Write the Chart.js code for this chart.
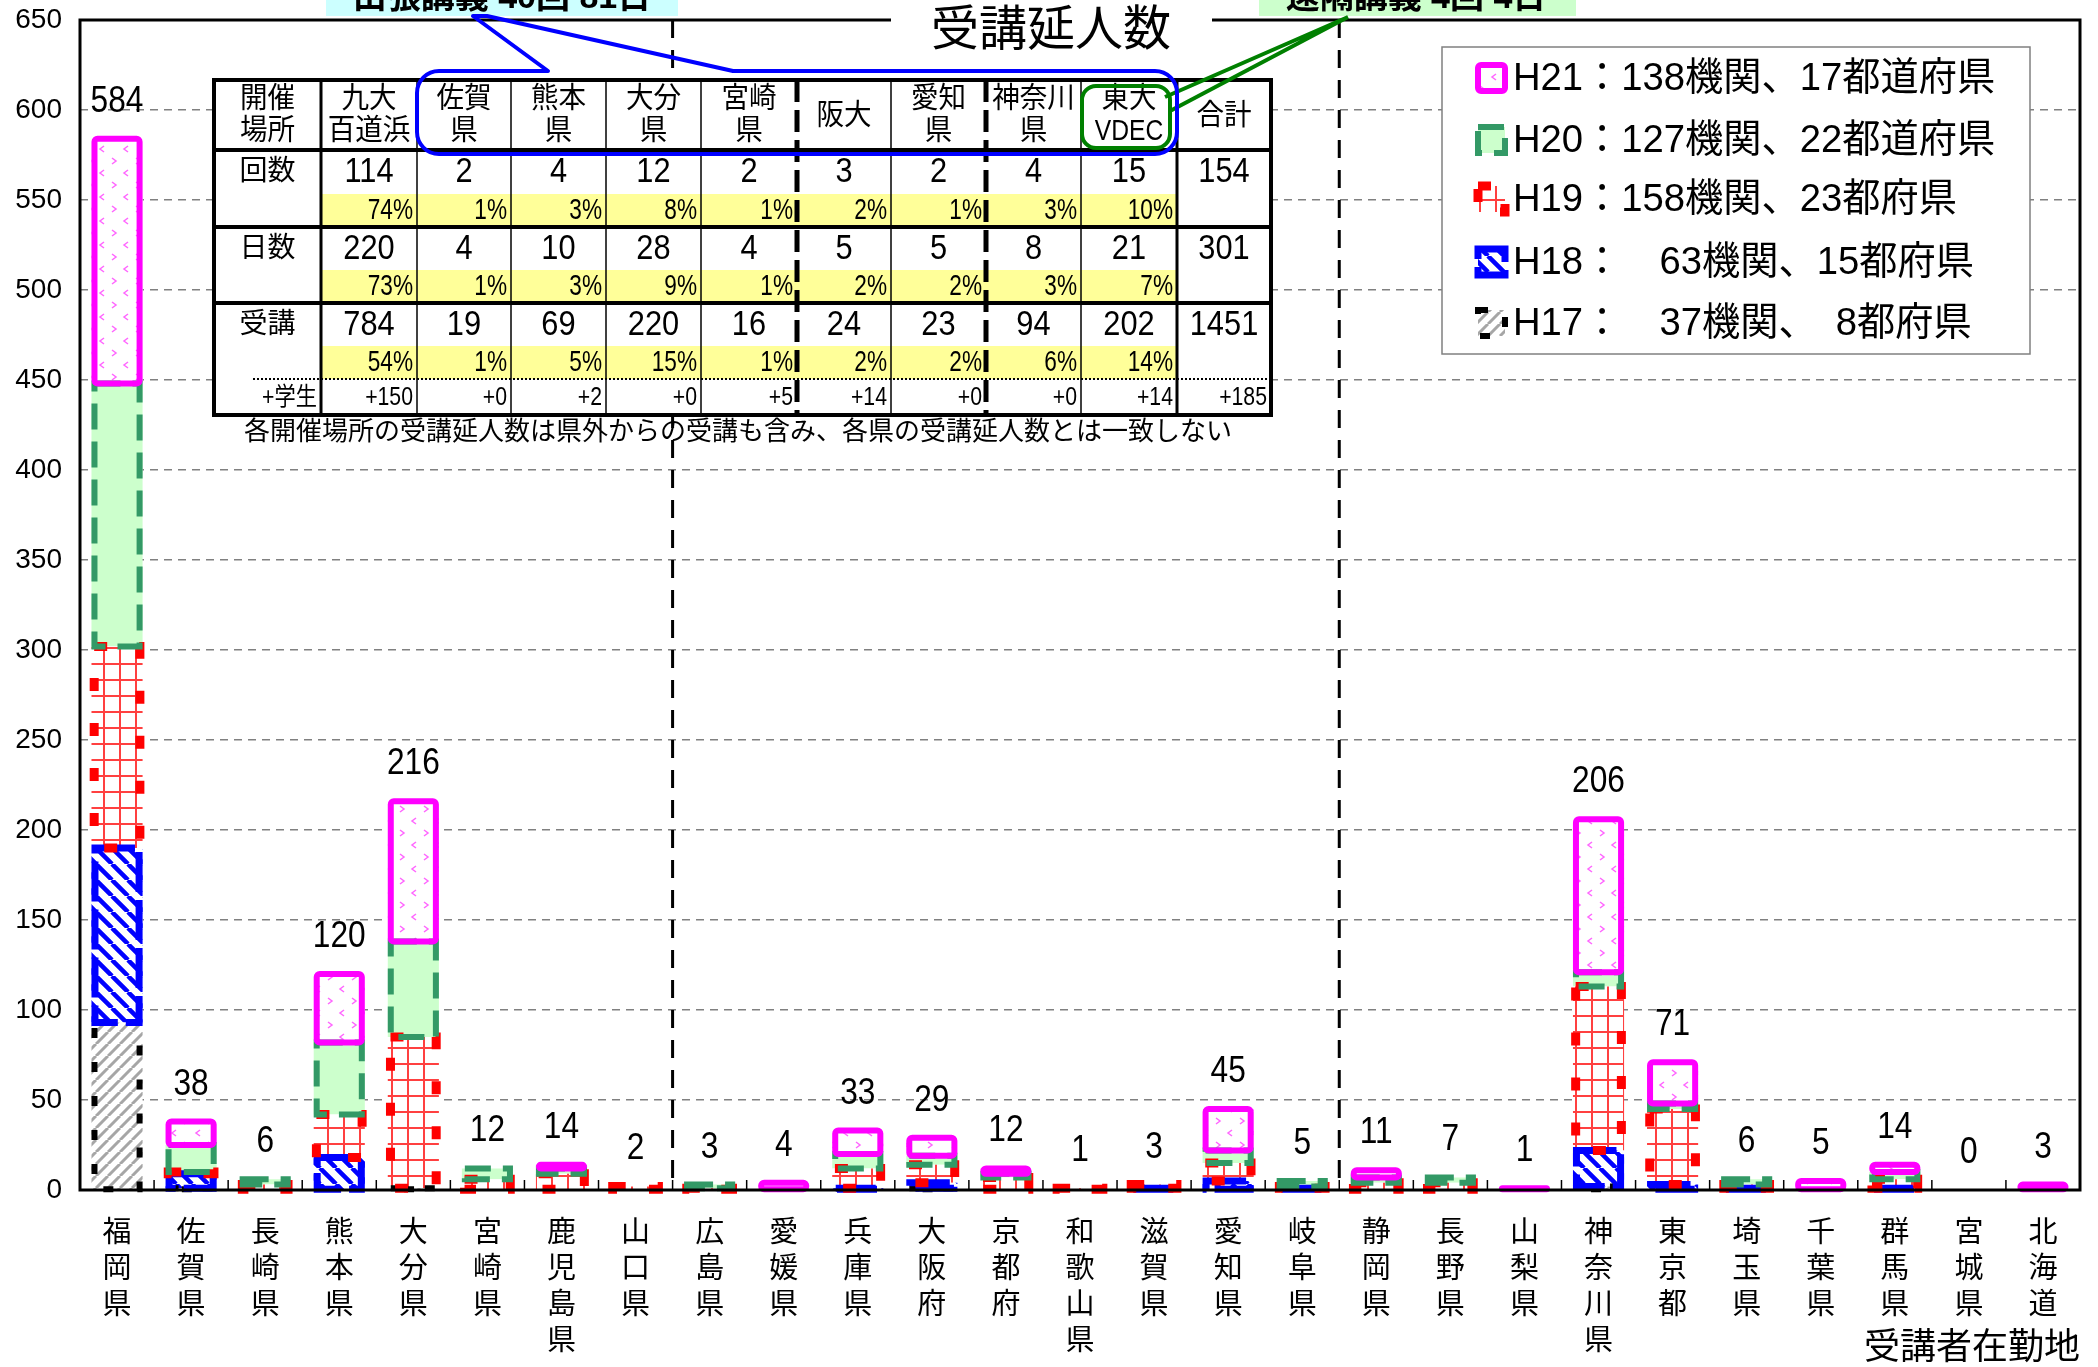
<!DOCTYPE html>
<html>
<head>
<meta charset="utf-8">
<script src="https://cdn.jsdelivr.net/npm/chart.js@4"></script>
<style>
  html, body { margin: 0; padding: 0; background: #fff; }
  canvas { display: block; }
</style>
</head>
<body>
<canvas id="jukoChart" width="2098" height="1367"></canvas>
<script>
// 受講者在勤地 (x軸)
const categories = ['福岡県','佐賀県','長崎県','熊本県','大分県','宮崎県','鹿児島県','山口県','広島県','愛媛県',
  '兵庫県','大阪府','京都府','和歌山県','滋賀県','愛知県','岐阜県','静岡県','長野県','山梨県',
  '神奈川県','東京都','埼玉県','千葉県','群馬県','宮城県','北海道'];

// 年度別の受講延人数 (下から積み上げ)
const h17 = [93,1,0,0,1,0,0,0,0,0, 0,1,0,0,0,0,0,0,0,0, 2,0,0,0,0,0,0];
const h18 = [97,8,0,18,0,0,0,0,0,0, 1,3,0,0,1,5,1,0,0,0, 20,3,1,0,1,0,0];
const h19 = [112,1,3,24,84,6,9,2,1,0, 11,10,7,1,2,10,1,4,4,0, 91,42,2,0,5,0,0];
const h20 = [146,15,3,40,53,6,3,0,2,0, 8,5,2,0,0,7,3,3,3,0, 8,3,3,0,4,0,0];
const h21 = [136,13,0,38,78,0,2,0,0,4, 13,10,3,0,0,23,0,4,0,1, 85,23,0,5,4,0,3];

const seriesNames = ['H17','H18','H19','H20','H21'];
const legendTexts = ['H17：　37機関、　8都府県','H18：　63機関、15都府県','H19：158機関、23都府県',
  'H20：127機関、22都道府県','H21：138機関、17都道府県'];

// 区切り線 (九州・中四国・近畿・東日本)
const regionBreaks = [8, 17];

// y軸
const yMin = 0, yMax = 650, yStep = 50;

// 開催場所の表
const tableHeads = [['開催','場所'],['九大','百道浜'],['佐賀','県'],['熊本','県'],['大分','県'],['宮崎','県'],
  ['阪大'],['愛知','県'],['神奈川','県'],['東大','VDEC'],['合計']];
const kaisu = [114,2,4,12,2,3,2,4,15,154];
const kaisuPct = ['74%','1%','3%','8%','1%','2%','1%','3%','10%'];
const nissu = [220,4,10,28,4,5,5,8,21,301];
const nissuPct = ['73%','1%','3%','9%','1%','2%','2%','3%','7%'];
const juko = [784,19,69,220,16,24,23,94,202,1451];
const jukoPct = ['54%','1%','5%','15%','1%','2%','2%','6%','14%'];
const gakusei = ['+150','+0','+2','+0','+5','+14','+0','+0','+14','+185'];
const tableNote = '各開催場所の受講延人数は県外からの受講も含み、各県の受講延人数とは一致しない';

const FONT = '"Liberation Sans", "Noto Sans CJK JP", sans-serif';

function makePattern(size, draw) {
  const c = document.createElement('canvas');
  c.width = c.height = size;
  const g = c.getContext('2d');
  g.fillStyle = '#fff';
  g.fillRect(0, 0, size, size);
  draw(g, size);
  return g.createPattern(c, 'repeat');
}

const fills = [
  makePattern(12, g => { // H17 grey stripes
    g.strokeStyle = '#a6a6a6'; g.lineWidth = 3;
    g.beginPath();
    [-12, 0, 12].forEach(k => { g.moveTo(k, 12); g.lineTo(k + 12, 0); });
    g.stroke();
  }),
  makePattern(16, g => { // H18 blue stripes
    g.strokeStyle = '#0000ff'; g.lineWidth = 4.5;
    g.beginPath();
    [-16, 0, 16].forEach(k => { g.moveTo(k, 0); g.lineTo(k + 16, 16); });
    g.stroke();
  }),
  makePattern(16, g => { // H19 red grid
    g.strokeStyle = 'rgba(255,0,0,0.75)'; g.lineWidth = 2;
    g.beginPath();
    g.moveTo(8, 0); g.lineTo(8, 16);
    g.moveTo(0, 8); g.lineTo(16, 8);
    g.stroke();
  }),
  '#ccffcc', // H20
  makePattern(24, g => { // H21 pink marks
    g.strokeStyle = '#ff66ff'; g.lineWidth = 1.5;
    g.beginPath();
    g.moveTo(8, 2); g.lineTo(4, 5); g.lineTo(8, 8);
    g.moveTo(16, 14); g.lineTo(20, 17); g.lineTo(16, 20);
    g.stroke();
  })
];

const edges = [
  { color: '#000000', width: 6, dash: [10, 24], inset: 0.5 },
  { color: '#0000ff', width: 7, dash: [40, 8], inset: 0.5 },
  { color: '#ff0000', width: 9, dash: [13, 32], inset: 0.3 },
  { color: '#339966', width: 6, dash: [26, 12], inset: 0.5 },
  { color: '#ff00ff', width: 6, dash: [], inset: 0.5 }
];

function txt(ctx, s, x, y, size, align, sx, weight, baseline) {
  ctx.save();
  ctx.font = (weight || 'normal') + ' ' + size + 'px ' + FONT;
  ctx.fillStyle = '#000';
  ctx.textAlign = align || 'center';
  ctx.textBaseline = baseline || 'middle';
  ctx.translate(x, y);
  ctx.scale(sx || 1, 1);
  ctx.fillText(s, 0, 0);
  ctx.restore();
}

function edgeRect(ctx, d, l, t, w, h) {
  const e = edges[d];
  ctx.save();
  ctx.strokeStyle = e.color;
  ctx.lineWidth = e.width;
  ctx.setLineDash(e.dash);
  ctx.beginPath();
  if (d === 4 && ctx.roundRect) ctx.roundRect(l, t, w, h, 3); else ctx.rect(l, t, w, h);
  ctx.stroke();
  ctx.restore();
}

function drawTable(ctx) {
  const colX = [214, 321, 417, 511, 606, 701, 797, 891, 986, 1081, 1177, 1271];
  const rowY = [80, 150, 227, 303, 379, 415];
  ctx.save();
  ctx.fillStyle = '#fff';
  ctx.fillRect(colX[0], rowY[0], colX[11] - colX[0], rowY[5] - rowY[0]);
  ctx.fillStyle = '#ffff99';
  for (let r = 1; r <= 3; r++) {
    ctx.fillRect(colX[1], rowY[r + 1] - 33, colX[10] - colX[1], 33);
  }
  // header
  tableHeads.forEach((lines, c) => {
    const cx = (colX[c] + colX[c + 1]) / 2;
    if (lines.length === 2) {
      txt(ctx, lines[0], cx, 100, 29, 'center', 0.95);
      txt(ctx, lines[1], cx, 132, 29, 'center', lines[1] === 'VDEC' ? 0.85 : 0.95);
    } else {
      txt(ctx, lines[0], cx, 117, 29, 'center', 0.95);
    }
  });
  const rows = [['回数', kaisu, kaisuPct], ['日数', nissu, nissuPct], ['受講', juko, jukoPct]];
  rows.forEach((row, r) => {
    const ny = rowY[r + 1] + 22;
    const py = rowY[r + 2] - 16;
    txt(ctx, row[0], (colX[0] + colX[1]) / 2, ny, 28, 'center', 1);
    row[1].forEach((v, k) => {
      const c = k + 1;
      txt(ctx, String(v), (colX[c] + colX[c + 1]) / 2, ny, 35, 'center', 0.88);
    });
    row[2].forEach((p, k) => {
      const c = k + 1;
      txt(ctx, p, colX[c + 1] - 4, py, 29, 'right', 0.78);
    });
  });
  txt(ctx, '+学生', colX[1] - 4, 398, 25, 'right', 0.85);
  gakusei.forEach((g, k) => {
    const c = k + 1;
    txt(ctx, g, colX[c + 1] - 4, 398, 25, 'right', 0.85);
  });
  // lines
  ctx.strokeStyle = '#000';
  for (let c = 1; c <= 10; c++) {
    ctx.beginPath();
    if (c === 6 || c === 8) { ctx.lineWidth = 5; ctx.setLineDash([22, 8]); }
    else if (c === 1 || c === 10) { ctx.lineWidth = 3; ctx.setLineDash([]); }
    else { ctx.lineWidth = 1.5; ctx.setLineDash([]); }
    ctx.moveTo(colX[c], rowY[0]); ctx.lineTo(colX[c], rowY[5]);
    ctx.stroke();
  }
  ctx.setLineDash([]);
  ctx.lineWidth = 4;
  for (let r = 1; r <= 3; r++) {
    ctx.beginPath(); ctx.moveTo(colX[0], rowY[r]); ctx.lineTo(colX[11], rowY[r]); ctx.stroke();
  }
  ctx.strokeRect(colX[0], rowY[0], colX[11] - colX[0], rowY[5] - rowY[0]);
  ctx.lineWidth = 2; ctx.setLineDash([2, 2]);
  ctx.beginPath(); ctx.moveTo(253, rowY[4]); ctx.lineTo(colX[11], rowY[4]); ctx.stroke();
  ctx.restore();
  txt(ctx, tableNote, 738, 433, 26, 'center', 1);
}

function drawCallouts(ctx) {
  // 遠隔講義 callout
  ctx.save();
  ctx.strokeStyle = '#008000'; ctx.lineWidth = 4;
  ctx.beginPath(); ctx.roundRect(1082, 86, 88, 62, 14); ctx.stroke();
  ctx.beginPath();
  ctx.moveTo(1165, 97); ctx.lineTo(1348, 17); ctx.lineTo(1170, 111);
  ctx.stroke();
  // 出張講義 callout
  const L = 417, T = 71, R = 1177, B = 154, rr = 22;
  ctx.strokeStyle = '#0000ff'; ctx.lineWidth = 4; ctx.lineJoin = 'round';
  ctx.beginPath();
  ctx.moveTo(548, T);
  ctx.lineTo(L + rr, T); ctx.arcTo(L, T, L, T + rr, rr);
  ctx.lineTo(L, B - rr); ctx.arcTo(L, B, L + rr, B, rr);
  ctx.lineTo(R - rr, B); ctx.arcTo(R, B, R, B - rr, rr);
  ctx.lineTo(R, T + rr); ctx.arcTo(R, T, R - rr, T, rr);
  ctx.lineTo(733, T); ctx.lineTo(487, 16); ctx.lineTo(473, 16);
  ctx.closePath();
  ctx.stroke();
  ctx.restore();
}

function drawLegend(ctx) {
  ctx.save();
  ctx.fillStyle = '#fff';
  ctx.fillRect(1442, 47, 588, 307);
  ctx.strokeStyle = '#808080'; ctx.lineWidth = 1.5;
  ctx.strokeRect(1442, 47, 588, 307);
  ctx.restore();
  const ys = [78, 140, 199, 262, 323];
  for (let k = 0; k < 5; k++) {
    const d = 4 - k;
    const y = ys[k];
    ctx.save();
    ctx.fillStyle = fills[d];
    ctx.fillRect(1478, y - 13, 27, 26);
    ctx.restore();
    edgeRect(ctx, d, 1478, y - 13, 27, 26);
    txt(ctx, legendTexts[d], 1513, y + 1, 39, 'left', 0.98);
  }
}

const decor = {
  id: 'decor',
  beforeDatasetsDraw(chart) {
    const { ctx, chartArea: a, scales: { x } } = chart;
    ctx.save();
    ctx.strokeStyle = '#000'; ctx.lineWidth = 3; ctx.setLineDash([18, 12]);
    regionBreaks.forEach(i => {
      const px = (x.getPixelForValue(i - 1) + x.getPixelForValue(i)) / 2;
      ctx.beginPath(); ctx.moveTo(px, a.top); ctx.lineTo(px, a.bottom); ctx.stroke();
    });
    ctx.restore();
  },
  afterDatasetsDraw(chart) {
    const { ctx } = chart;
    chart.data.datasets.forEach((ds, d) => {
      const meta = chart.getDatasetMeta(d);
      meta.data.forEach((bar, i) => {
        if (!ds.data[i]) return;
        const p = bar.getProps(['x', 'y', 'base', 'width'], true);
        const ins = edges[d].width * edges[d].inset;
        const l = p.x - p.width / 2 + ins;
        const w = p.width - 2 * ins;
        edgeRect(ctx, d, l, p.y, w, p.base - p.y);
      });
    });
  },
  afterDraw(chart) {
    const { ctx, chartArea: a, scales: { x, y } } = chart;
    // totals
    categories.forEach((c, i) => {
      const total = chart.data.datasets.reduce((s, ds) => s + ds.data[i], 0);
      txt(ctx, String(total), x.getPixelForValue(i), y.getPixelForValue(total) - 37, 36, 'center', 0.88);
    });
    // small ticks on x axis
    ctx.save();
    ctx.strokeStyle = '#000'; ctx.lineWidth = 1.5;
    for (let i = 1; i < categories.length; i++) {
      const px = (x.getPixelForValue(i - 1) + x.getPixelForValue(i)) / 2;
      ctx.beginPath(); ctx.moveTo(px, a.bottom); ctx.lineTo(px, a.bottom - 10); ctx.stroke();
    }
    // frame
    ctx.lineWidth = 3;
    ctx.strokeRect(a.left, a.top, a.right - a.left, a.bottom - a.top);
    // title
    ctx.fillStyle = '#fff';
    ctx.fillRect(891, 0, 321, 60);
    ctx.fillStyle = '#ccffff';
    ctx.fillRect(326, 0, 352, 16);
    ctx.fillStyle = '#ccffcc';
    ctx.fillRect(1259, 0, 317, 16);
    ctx.restore();
    txt(ctx, '受講延人数', 1051, 32, 48, 'center', 1);
    txt(ctx, '出張講義 40回 81日', 502, 8, 34, 'center', 1, 'bold', 'alphabetic');
    txt(ctx, '遠隔講義 4回 4日', 1416, 8, 34, 'center', 1, 'bold', 'alphabetic');
    drawTable(ctx);
    drawCallouts(ctx);
    drawLegend(ctx);
  }
};

const seriesData = [h17, h18, h19, h20, h21];

const chart = new Chart(document.getElementById('jukoChart').getContext('2d'), {
  type: 'bar',
  data: {
    labels: categories.map(s => s.split('')),
    datasets: seriesData.map((vals, d) => ({
      label: seriesNames[d],
      data: vals,
      backgroundColor: fills[d],
      borderWidth: 0,
      categoryPercentage: 0.69,
      barPercentage: 1
    }))
  },
  options: {
    responsive: false,
    animation: false,
    devicePixelRatio: 1,
    layout: { padding: { top: 20, right: 18, left: 0, bottom: 0 } },
    plugins: { legend: { display: false }, tooltip: { enabled: false } },
    scales: {
      x: {
        stacked: true,
        grid: { display: false },
        border: { display: false },
        ticks: {
          color: '#000', padding: 18, autoSkip: false, maxRotation: 0, minRotation: 0,
          font: { family: FONT, size: 29, lineHeight: 1.24 }
        },
        title: {
          display: true, text: '受講者在勤地', align: 'end', color: '#000',
          font: { family: FONT, size: 36, lineHeight: 1 }, padding: { top: 0, bottom: 0 }
        },
        afterFit(s) { s.height = 177; }
      },
      y: {
        stacked: true,
        min: yMin, max: yMax,
        ticks: { stepSize: yStep, color: '#000', padding: 18, font: { family: FONT, size: 28 } },
        grid: { color: '#808080', lineWidth: 1.5, drawTicks: false },
        border: { display: false, dash: [8, 6] },
        afterFit(s) { s.width = 80; s.paddingTop = 0; s.paddingBottom = 0; }
      }
    }
  },
  plugins: [decor]
});
</script>
</body>
</html>
